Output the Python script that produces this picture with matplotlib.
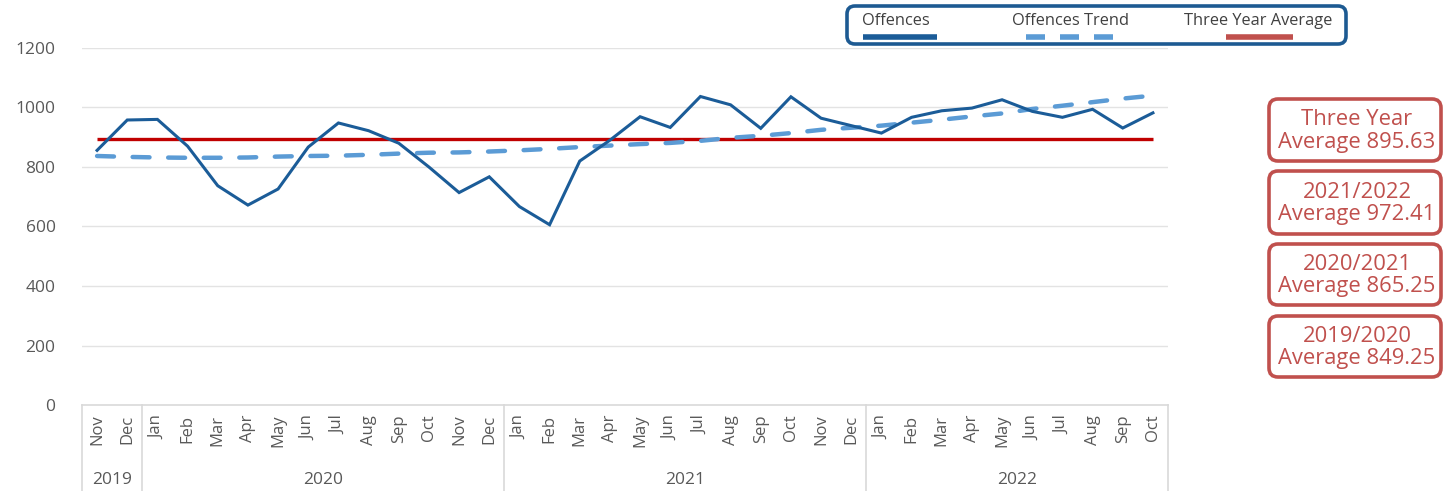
import matplotlib
matplotlib.use('Agg')
import matplotlib.pyplot as plt
from matplotlib.patches import FancyBboxPatch
import matplotlib.transforms as mtransforms
import numpy as np

plt.rcParams['font.family'] = ['Open Sans', 'DejaVu Sans']

# ---------------- data ----------------
months = (['Nov', 'Dec']
          + ['Jan', 'Feb', 'Mar', 'Apr', 'May', 'Jun', 'Jul', 'Aug', 'Sep', 'Oct', 'Nov', 'Dec']
          + ['Jan', 'Feb', 'Mar', 'Apr', 'May', 'Jun', 'Jul', 'Aug', 'Sep', 'Oct', 'Nov', 'Dec']
          + ['Jan', 'Feb', 'Mar', 'Apr', 'May', 'Jun', 'Jul', 'Aug', 'Sep', 'Oct'])
year_labels = ['2019', '2020', '2021', '2022']
year_counts = [2, 12, 12, 10]

offences = [856, 958, 960, 870, 737, 672, 726, 867, 948, 922, 880, 800,
            714, 767, 667, 606, 820, 890, 969, 933, 1037, 1009, 930, 1036,
            964, 939, 914, 967, 989, 998, 1026, 987, 967, 994, 931, 982]
trend = [837, 834, 832, 831, 831, 832, 835, 837, 838, 841, 845, 848,
         849, 852, 856, 861, 867, 872, 877, 881, 888, 898, 905, 914,
         925, 932, 939, 949, 959, 970, 980, 995, 1006, 1018, 1030, 1040]
three_year_avg = 895.63
y_ticks = [0, 200, 400, 600, 800, 1000, 1200]

legend_labels = ['Offences', 'Offences Trend', 'Three Year Average']
summary_labels = ['Three Year\nAverage 895.63',
                  '2021/2022\nAverage 972.41',
                  '2020/2021\nAverage 865.25',
                  '2019/2020\nAverage 849.25']

# ---------------- styles ----------------
C_OFF = '#1B5C98'
C_TREND = '#5B9BD5'
C_AVG = '#C00000'
C_BOX = '#C0504D'
C_TXT = '#595959'
C_GRID = '#E3E3E3'

W, H = 1444, 491
fig = plt.figure(figsize=(W / 100, H / 100), dpi=100)
fig.patch.set_facecolor('white')

L, R, T, B = 82, 1168, 48, 405
ax = fig.add_axes([L / W, (H - B) / H, (R - L) / W, (B - T) / H])
x = np.arange(len(months))

ax.set_xlim(-0.5, len(months) - 0.5)
ax.set_ylim(0, 1200)
ax.set_yticks(y_ticks)
ax.set_yticklabels([str(v) for v in y_ticks], fontsize=12.5, color=C_TXT)
for v in y_ticks[1:]:
    ax.axhline(v, color=C_GRID, lw=1, zorder=0)

ax.hlines(three_year_avg, x[0], x[-1], color=C_AVG, lw=2.4, zorder=2)
ax.plot(x, trend, color=C_TREND, lw=3.2, ls=(0, (3.8, 4.2)),
        dash_capstyle='round', zorder=3)
ax.plot(x, offences, color=C_OFF, lw=2.2, zorder=4, solid_joinstyle='miter')

for s in ['top', 'right', 'left']:
    ax.spines[s].set_visible(False)
ax.spines['bottom'].set_color('#D9D9D9')
ax.spines['bottom'].set_linewidth(1.2)
ax.tick_params(axis='both', length=0)
ax.tick_params(axis='y', pad=19)
ax.set_xticks(x)
ax.set_xticklabels(months, rotation=90, fontsize=12, color=C_TXT)
ax.tick_params(axis='x', pad=7)

# category group separators and year labels
trans = mtransforms.blended_transform_factory(ax.transData, ax.transAxes)
bottom_frac = -(H - B) / (B - T)
bounds = np.concatenate([[0], np.cumsum(year_counts)]) - 0.5
for b in bounds:
    ax.plot([b, b], [0, bottom_frac], transform=trans, color='#D9D9D9',
            lw=1.2, clip_on=False, zorder=1)
for i, lab in enumerate(year_labels):
    cx = (bounds[i] + bounds[i + 1]) / 2
    ax.text(cx, -(480 - B) / (B - T), lab, transform=trans, ha='center',
            va='center', fontsize=12.5, color=C_TXT)

# ---------------- overlay (pixel coords) ----------------
ov = fig.add_axes([0, 0, 1, 1], zorder=10)
ov.set_xlim(0, W)
ov.set_ylim(H, 0)
ov.axis('off')
ov.patch.set_alpha(0)

# legend
ov.add_patch(FancyBboxPatch((847, 6), 499, 38,
                            boxstyle='round,pad=0,rounding_size=8',
                            fc='white', ec='#1D5A92', lw=2.6))
ov.text(862, 21, legend_labels[0], ha='left', va='center', fontsize=11.8, color='#404040')
ov.plot([863, 937], [37, 37], color=C_OFF, lw=4, solid_capstyle='butt')
ov.text(1012, 21, legend_labels[1], ha='left', va='center', fontsize=11.8, color='#404040')
ov.plot([1026, 1113], [37, 37], color=C_TREND, lw=4, ls=(0, (3.42, 2.7)),
        dash_capstyle='butt')
ov.text(1184, 21, legend_labels[2], ha='left', va='center', fontsize=11.8, color='#404040')
ov.plot([1226, 1293], [37, 37], color=C_BOX, lw=4, solid_capstyle='butt')

# summary boxes
box_y = [(99, 161), (171, 234), (244, 305), (316, 377)]
for (y0, y1), lab in zip(box_y, summary_labels):
    ov.add_patch(FancyBboxPatch((1269, y0), 172, y1 - y0,
                                boxstyle='round,pad=0,rounding_size=9',
                                fc='white', ec=C_BOX, lw=2.6))
    ov.text(1357, (y0 + y1) / 2 + 1, lab, ha='center', va='center',
            fontsize=15.8, color=C_BOX, linespacing=1.1)

fig.savefig('out.png', dpi=100, facecolor='white')
